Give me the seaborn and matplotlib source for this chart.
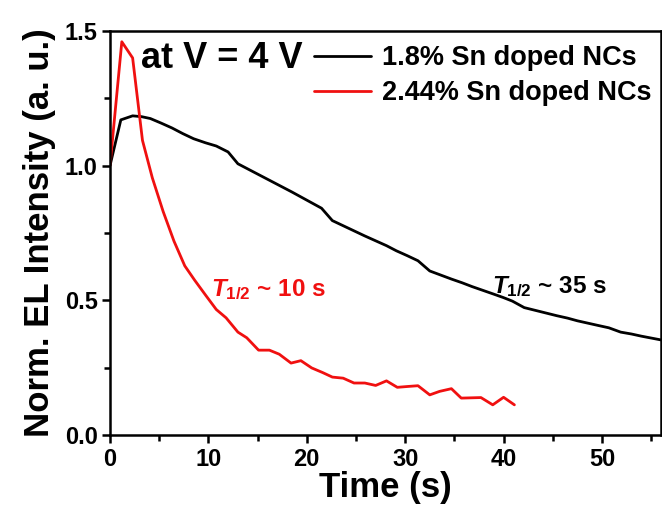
import matplotlib
matplotlib.use("Agg")
import matplotlib.pyplot as plt
import seaborn as sns
import pandas as pd
from matplotlib.ticker import MultipleLocator

# --- data ---
time_18 = [0, 1.1, 2.3, 3.2, 4.1, 5.2, 6.3, 7.4, 8.5, 9.7, 10.8, 12.0, 13.0,
           14.1, 15.2, 16.3, 17.4, 18.5, 19.5, 20.5, 21.5, 22.6, 23.7, 24.8,
           25.9, 27.0, 28.1, 29.1, 30.2, 31.3, 32.5, 33.6, 34.7, 35.8, 36.8,
           37.9, 39.0, 40.0, 40.9, 42.1, 43.2, 44.3, 45.4, 46.5, 47.5, 48.6,
           49.7, 50.7, 51.9, 53.0, 54.0, 55.0, 56.0]
inten_18 = [1.0, 1.17, 1.185, 1.182, 1.175, 1.158, 1.14, 1.119, 1.10, 1.085,
            1.073, 1.051, 1.007, 0.986, 0.965, 0.944, 0.923, 0.902, 0.882,
            0.862, 0.842, 0.796, 0.777, 0.758, 0.739, 0.721, 0.703, 0.684,
            0.666, 0.647, 0.609, 0.594, 0.579, 0.565, 0.551, 0.537, 0.523,
            0.510, 0.497, 0.473, 0.463, 0.453, 0.443, 0.434, 0.424, 0.415,
            0.406, 0.398, 0.382, 0.375, 0.367, 0.360, 0.353]

time_244 = [0, 1.2, 2.3, 3.3, 4.3, 5.4, 6.5, 7.6, 8.6, 9.7, 10.8, 11.8, 13.0,
            13.9, 15.1, 16.2, 17.2, 18.4, 19.4, 20.5, 21.6, 22.6, 23.7, 24.8,
            25.9, 27.0, 28.1, 29.2, 30.2, 31.3, 32.5, 33.5, 34.7, 35.7, 36.7,
            37.7, 38.9, 40.0, 41.1]
inten_244 = [1.0, 1.46, 1.40, 1.094, 0.955, 0.83, 0.72, 0.628, 0.575, 0.52,
             0.466, 0.435, 0.382, 0.361, 0.315, 0.315, 0.30, 0.267, 0.276,
             0.249, 0.232, 0.215, 0.211, 0.193, 0.193, 0.184, 0.201, 0.177,
             0.180, 0.183, 0.149, 0.162, 0.172, 0.137, 0.138, 0.139, 0.112,
             0.14, 0.112]

labels = ["1.8% Sn doped NCs", "2.44% Sn doped NCs"]
colors = ["#000000", "#f01010"]

df = pd.concat([
    pd.DataFrame({"Time": time_18, "I": inten_18, "Sample": labels[0]}),
    pd.DataFrame({"Time": time_244, "I": inten_244, "Sample": labels[1]}),
], ignore_index=True)

sns.set_theme(style="ticks")
plt.rcParams["font.family"] = ["Liberation Sans", "DejaVu Sans"]
plt.rcParams["font.weight"] = "bold"
plt.rcParams["text.color"] = "black"
plt.rcParams["axes.labelcolor"] = "black"
plt.rcParams["xtick.color"] = "black"
plt.rcParams["ytick.color"] = "black"
plt.rcParams["xtick.labelcolor"] = "black"
plt.rcParams["ytick.labelcolor"] = "black"
plt.rcParams["mathtext.fontset"] = "custom"
plt.rcParams["mathtext.it"] = "Liberation Sans:bold:italic"
plt.rcParams["mathtext.rm"] = "Liberation Sans:bold"
plt.rcParams["mathtext.bf"] = "Liberation Sans:bold"

fig = plt.figure(figsize=(6.62, 5.16), dpi=100)
ax = fig.add_axes([110 / 662, 1 - 435 / 516, 551 / 662, 404 / 516])

sns.lineplot(data=df, x="Time", y="I", hue="Sample", palette=colors,
             estimator=None, sort=False, linewidth=2.0, ax=ax)

ax.set_xlim(0, 56)
ax.set_ylim(0, 1.5)
ax.xaxis.set_major_locator(MultipleLocator(10))
ax.xaxis.set_minor_locator(MultipleLocator(5))
ax.yaxis.set_major_locator(MultipleLocator(0.5))
ax.yaxis.set_minor_locator(MultipleLocator(0.25))
ax.tick_params(which="major", direction="out", length=6, width=1.8,
               labelsize=17, color="black", labelcolor="black", pad=3)
ax.tick_params(which="minor", direction="out", length=4, width=1.8,
               color="black")
for lab in ax.get_xticklabels() + ax.get_yticklabels():
    lab.set_fontweight("bold")
for s in ax.spines.values():
    s.set_linewidth(1.8)
    s.set_color("black")
    s.set_visible(True)

ax.set_xlabel("Time (s)", fontsize=25, fontweight="bold", labelpad=0,
              color="black")
ax.set_ylabel("Norm. EL Intensity (a. u.)", fontsize=25, fontweight="bold",
              labelpad=6, color="black")

leg = ax.legend(loc="upper left", bbox_to_anchor=(314 / 662, 1 - 45 / 516),
                bbox_transform=fig.transFigure, frameon=False,
                prop={"size": 19.5, "weight": "bold"}, handlelength=2.1,
                handletextpad=0.4, labelspacing=0.35, borderpad=0,
                borderaxespad=0)
for line in leg.get_lines():
    line.set_linewidth(2.0)
for t in leg.get_texts():
    t.set_color("black")

fig.text(141 / 662, 1 - 58 / 516, "at V = 4 V", fontsize=26,
         fontweight="bold", va="center", ha="left", color="black")
ax.text(10.3, 0.54, r"$T_{1/2}$ ~ 10 s", color=colors[1], fontsize=17.5,
        fontweight="bold", va="center", ha="left")
ax.text(38.8, 0.55, r"$T_{1/2}$ ~ 35 s", color="black", fontsize=17.5,
        fontweight="bold", va="center", ha="left")

fig.savefig("out.png", dpi=100)
